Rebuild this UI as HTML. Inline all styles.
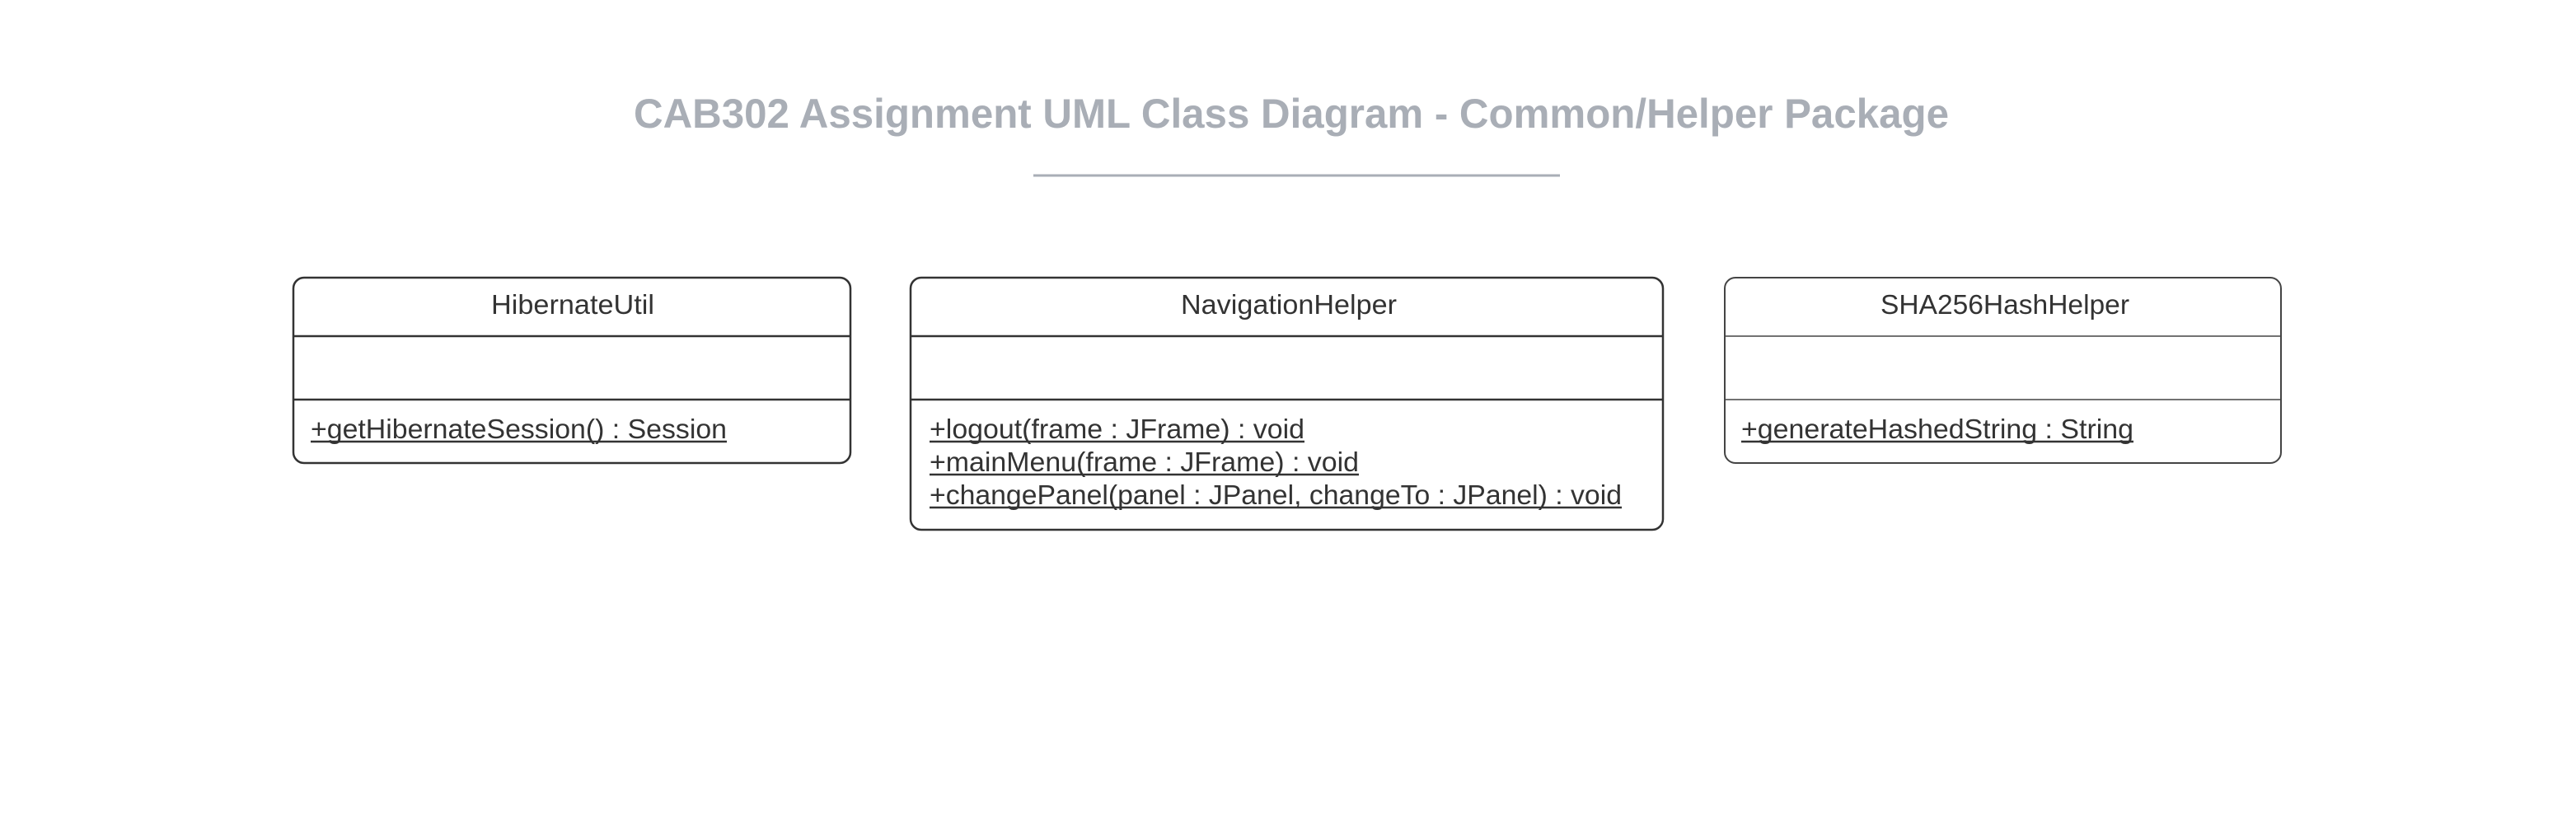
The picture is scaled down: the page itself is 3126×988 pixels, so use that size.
<!DOCTYPE html>
<html><head><meta charset="utf-8"><style>
html,body{margin:0;padding:0;background:#fff;}
svg{display:block;}
</style></head><body>
<svg width="3126" height="988" viewBox="0 0 3126 988" xmlns="http://www.w3.org/2000/svg">
<rect width="3126" height="988" fill="#fff"/>
<text x="1567" y="155" text-anchor="middle" font-family="Liberation Sans, sans-serif" font-weight="bold" font-size="50" fill="#a9aeb6" textLength="1596" lengthAdjust="spacingAndGlyphs">CAB302 Assignment UML Class Diagram - Common/Helper Package</text>
<line x1="1254" y1="213" x2="1893" y2="213" stroke="#a9aeb6" stroke-width="3"/>
<g fill="none" stroke="#333" stroke-width="2.5">
<rect x="356" y="337" width="676" height="225" rx="13"/>
<line x1="356" y1="408" x2="1032" y2="408"/>
<line x1="356" y1="485" x2="1032" y2="485"/>
<rect x="1105" y="337" width="913" height="306" rx="13"/>
<line x1="1105" y1="408" x2="2018" y2="408"/>
<line x1="1105" y1="485" x2="2018" y2="485"/>
</g>
<g fill="none" stroke="#444" stroke-width="2">
<rect x="2093" y="337" width="675" height="225" rx="13"/>
<line x1="2093" y1="408" x2="2768" y2="408" stroke-width="1.5"/>
<line x1="2093" y1="485" x2="2768" y2="485" stroke-width="1.5"/>
</g>
<g font-family="Liberation Sans, sans-serif" font-size="33" fill="#333">
<text x="596" y="381" textLength="198" lengthAdjust="spacingAndGlyphs">HibernateUtil</text>
<text x="1433" y="381" textLength="262" lengthAdjust="spacingAndGlyphs">NavigationHelper</text>
<text x="2282" y="381" textLength="302" lengthAdjust="spacingAndGlyphs">SHA256HashHelper</text>
<text x="377" y="532" textLength="505" lengthAdjust="spacingAndGlyphs">+getHibernateSession() : Session</text>
<text x="1128" y="532" textLength="455" lengthAdjust="spacingAndGlyphs">+logout(frame : JFrame) : void</text>
<text x="1128" y="572" textLength="521" lengthAdjust="spacingAndGlyphs">+mainMenu(frame : JFrame) : void</text>
<text x="1128" y="612" textLength="840" lengthAdjust="spacingAndGlyphs">+changePanel(panel : JPanel, changeTo : JPanel) : void</text>
<text x="2113" y="532" textLength="476" lengthAdjust="spacingAndGlyphs">+generateHashedString : String</text>
</g>
<g stroke="#333" stroke-width="2.5">
<line x1="377" y1="536" x2="882" y2="536"/>
<line x1="1128" y1="536" x2="1583" y2="536"/>
<line x1="1128" y1="576" x2="1649" y2="576"/>
<line x1="1128" y1="616" x2="1968" y2="616"/>
<line x1="2113" y1="536" x2="2589" y2="536"/>
</g>
</svg>
</body></html>
